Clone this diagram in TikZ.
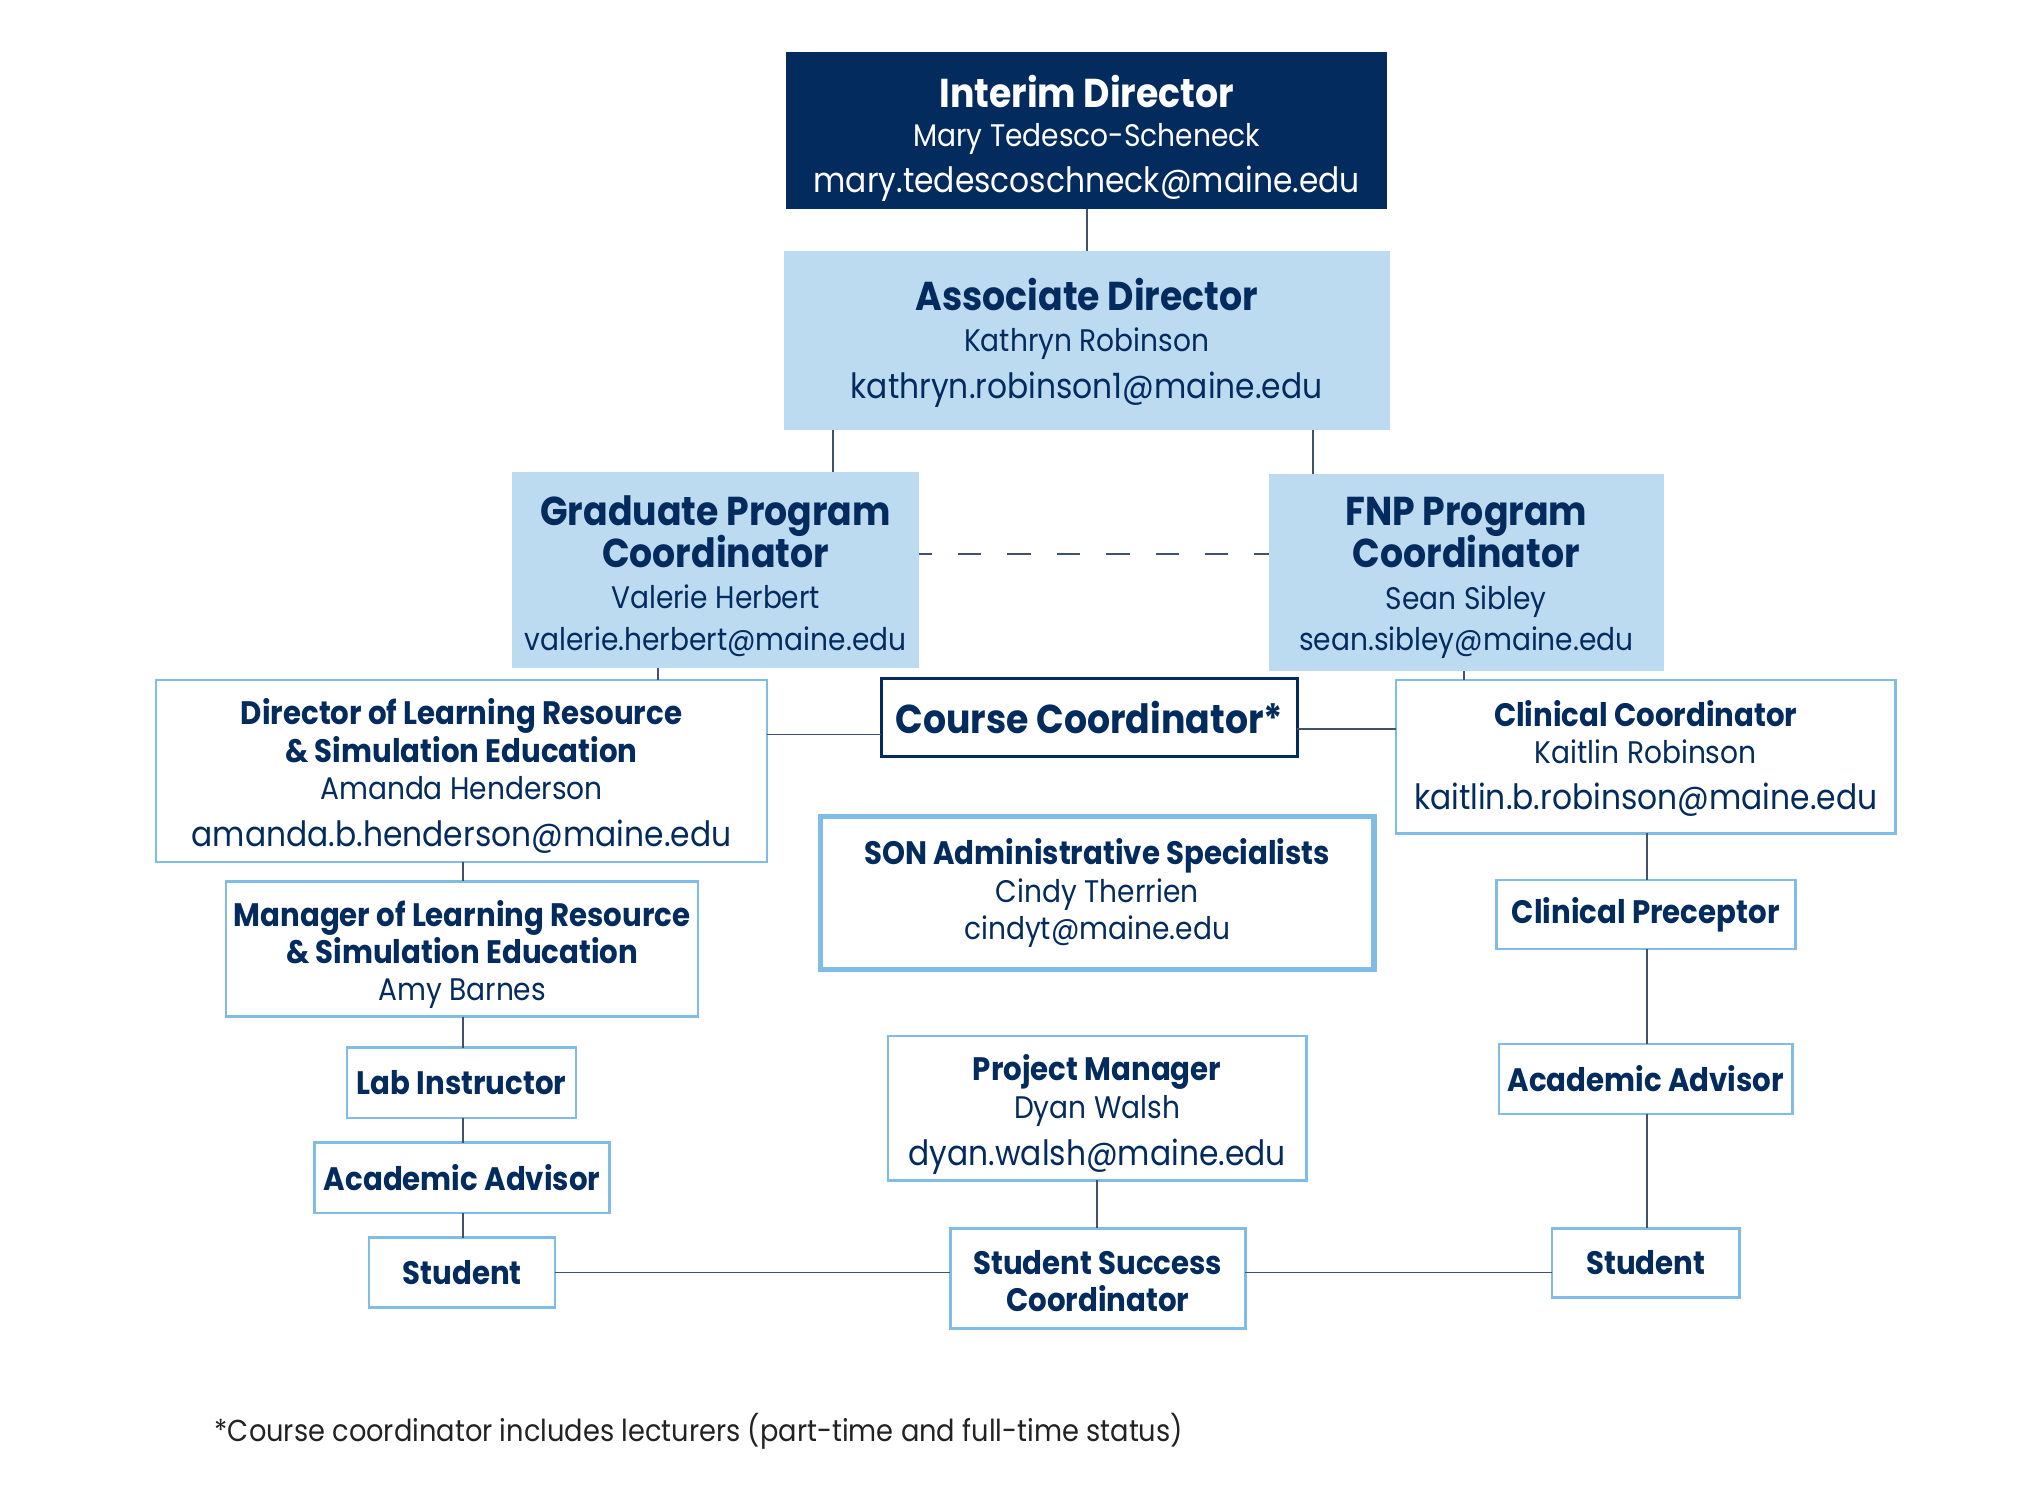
\documentclass[tikz,border=0pt]{standalone}
\usepackage{fontspec}
\setmainfont{Poppins}[FakeStretch=0.9]
\usetikzlibrary{calc}
\definecolor{navy}{HTML}{032B5D}
\definecolor{lightfill}{HTML}{BCDBF1}
\definecolor{bordblue}{HTML}{80BDE6}
\definecolor{conncol}{HTML}{42526E}
\definecolor{foot}{HTML}{222222}
\newcommand\fT{\fontsize{31}{34}\selectfont\bfseries}
\newcommand\fB{\fontsize{25}{29}\selectfont\bfseries}
\newcommand\fN{\fontsize{24}{29}\selectfont}
\newcommand\fE{\fontsize{26.8}{34}\selectfont}
\newcommand\fFoot{\fontsize{23.3}{28}\selectfont}
\newcommand\lift[1]{\rule[-#1pt]{0pt}{0pt}}
\newcommand\drop[1]{\rule{0pt}{#1pt}}
\tikzset{
  base/.style={rectangle, inner sep=0pt, outer sep=0pt, align=center, text=navy},
  lsk/.style={font=\fontsize{22}{#1}\selectfont},
  darkbox/.style={base, fill=navy, text=white},
  fillbox/.style={base, fill=lightfill},
  linebox/.style={base, draw=bordblue, line width=2pt, fill=white},
  thickbox/.style={base, draw=bordblue, line width=4pt, fill=white},
  navybox/.style={base, draw=navy, line width=2pt, fill=white},
  conn/.style={draw=conncol, line width=1.3pt},
  dashconn/.style={draw=conncol, line width=1.3pt, dash pattern=on 18pt off 20pt, dash phase=8pt},
}
\begin{document}
\begin{tikzpicture}[x=1pt, y=-1pt]
\useasboundingbox (0,0) rectangle (1567,1152.4);
% top level
\node[darkbox, lsk=30, minimum width=462, minimum height=121] (interim) at (836,100.5)
  {{\fT \drop{37}Interim Director}\\{\fN Mary Tedesco-Scheneck}\\[5pt]{\fE mary.tedescoschneck@maine.edu}};
\node[fillbox, lsk=32, minimum width=466, minimum height=138] (assoc) at (836,262)
  {{\fT \drop{28}Associate Director}\\{\fN Kathryn Robinson}\\[4pt]{\fE kathryn.robinson1@maine.edu}};
\node[fillbox, lsk=32, minimum width=313, minimum height=151] (grad) at (550.5,438.5)
  {{\fT \drop{32}Graduate Program}\\[-2pt]{\fT Coordinator}\\{\fN Valerie Herbert}\\{\fN valerie.herbert@maine.edu}};
\node[fillbox, lsk=32, minimum width=304, minimum height=151] (fnp) at (1128,440.5)
  {{\fT \drop{30}FNP Program}\\[-2pt]{\fT Coordinator}\\{\fN Sean Sibley}\\{\fN sean.sibley@maine.edu}};
% middle row
\node[linebox, lsk=29, minimum width=470, minimum height=140] (dir) at (355,593)
  {{\fB \drop{28}Director of Learning Resource}\\{\fB \& Simulation Education}\\{\fN Amanda Henderson}\\[7pt]{\fE amanda.b.henderson@maine.edu}};
\node[navybox, lsk=30, minimum width=320, minimum height=60] (course) at (838,552)
  {{\fT Course Coordinator*}};
\node[linebox, lsk=29, minimum width=384, minimum height=118] (clin) at (1266,582)
  {{\fB \drop{22.5}Clinical Coordinator}\\{\fN Kaitlin Robinson}\\[6pt]{\fE kaitlin.b.robinson@maine.edu}};
\node[thickbox, lsk=29, minimum width=426, minimum height=118] (son) at (844,687)
  {{\fB SON Administrative Specialists}\\{\fN Cindy Therrien}\\{\fN cindyt@maine.edu\lift{6}}};
\node[linebox, lsk=28.5, minimum width=363, minimum height=104] (man) at (355.5,730)
  {{\fB \drop{28}Manager of Learning Resource}\\{\fB \& Simulation Education}\\{\fN Amy Barnes}};
% left column
\node[linebox, minimum width=176, minimum height=54] (lab) at (355,833) {\fB Lab Instructor};
\node[linebox, minimum width=227, minimum height=54] (aaL) at (355.5,906) {\fB Academic Advisor};
\node[linebox, minimum width=143, minimum height=54] (stuL) at (355.5,979) {\fB Student};
% center column
\node[linebox, lsk=29, minimum width=322, minimum height=111] (pm) at (844,852.5)
  {{\fB \drop{30}Project Manager}\\{\fN Dyan Walsh}\\[7pt]{\fE dyan.walsh@maine.edu}};
\node[linebox, lsk=29, minimum width=227, minimum height=77] (ssc) at (844.5,983.5)
  {{\fB \drop{22.5}Student Success}\\{\fB Coordinator}};
% right column
\node[linebox, minimum width=230, minimum height=53] (cp) at (1266,703.5) {\fB Clinical Preceptor};
\node[linebox, minimum width=226, minimum height=54] (aaR) at (1266,830) {\fB Academic Advisor};
\node[linebox, minimum width=144, minimum height=53] (stuR) at (1266,971.5) {\fB Student};
% footnote
\node[anchor=west, inner sep=0pt, text=foot, font=\fFoot] (note) at (165,1101)
  {*Course coordinator includes lecturers (part-time and full-time status)};
% helper coordinates
\coordinate (xA) at (641,0);
\coordinate (xB) at (1010,0);
\coordinate (xC) at (506,0);
\coordinate (xD) at (1126,0);
\coordinate (xL) at (356,0);
\coordinate (xR) at (1267,0);
\coordinate (xM) at (844,0);
\coordinate (yDash) at (0,426);
\coordinate (yDC) at (0,565);
\coordinate (yCC) at (0,561);
\coordinate (yS) at (0,979);
% connectors
\draw[conn] (interim.south) -- (assoc.north);
\draw[conn] (assoc.south -| xA) -- (grad.north -| xA);
\draw[conn] (assoc.south -| xB) -- (fnp.north -| xB);
\draw[dashconn] (grad.east |- yDash) -- (fnp.west |- yDash);
\draw[conn] (grad.south -| xC) -- (dir.north -| xC);
\draw[conn] (fnp.south -| xD) -- (clin.north -| xD);
\draw[conn] (dir.east |- yDC) -- (course.west |- yDC);
\draw[conn] (course.east |- yCC) -- (clin.west |- yCC);
\draw[conn] (dir.south -| xL) -- (man.north -| xL);
\draw[conn] (man.south -| xL) -- (lab.north -| xL);
\draw[conn] (lab.south -| xL) -- (aaL.north -| xL);
\draw[conn] (aaL.south -| xL) -- (stuL.north -| xL);
\draw[conn] (stuL.east |- yS) -- (ssc.west |- yS);
\draw[conn] (ssc.east |- yS) -- (stuR.west |- yS);
\draw[conn] (pm.south -| xM) -- (ssc.north -| xM);
\draw[conn] (clin.south -| xR) -- (cp.north -| xR);
\draw[conn] (cp.south -| xR) -- (aaR.north -| xR);
\draw[conn] (aaR.south -| xR) -- (stuR.north -| xR);
\end{tikzpicture}
\end{document}
